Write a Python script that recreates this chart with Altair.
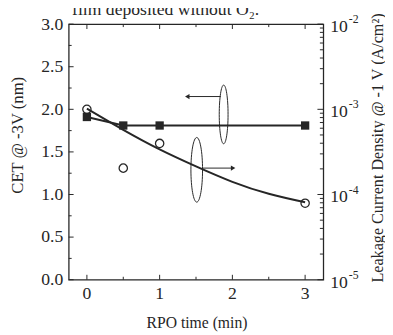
import altair as alt
import pandas as pd

# ---- data ----
rpo_sq = [0, 0.5, 1, 3]
cet = [1.91, 1.81, 1.81, 1.81]
rpo_circ = [0, 0.5, 1, 3]
leak = [1.0e-3, 2.04e-4, 3.98e-4, 7.9e-5]
fit_x = [0, 0.5, 1, 1.5, 2, 2.5, 3]
fit_leak = [1.02e-3, 5.75e-4, 3.39e-4, 2.14e-4, 1.41e-4, 1.02e-4, 8.1e-5]

# tick positions / labels
x_major = [0, 1, 2, 3]
x_labels = ["0", "1", "2", "3"]
x_minor = [0.5, 1.5, 2.5]
yl_major = [0, 0.5, 1.0, 1.5, 2.0, 2.5, 3.0]
yl_minor = [0.25, 0.75, 1.25, 1.75, 2.25, 2.75]
yr_major = [1e-5, 1e-4, 1e-3, 1e-2]
yr_exp = ["-5", "-4", "-3", "-2"]
yr_minor = [2e-5, 3e-5, 4e-5, 5e-5, 6e-5, 7e-5, 8e-5, 9e-5,
            2e-4, 3e-4, 4e-4, 5e-4, 6e-4, 7e-4, 8e-4, 9e-4,
            2e-3, 3e-3, 4e-3, 5e-3, 6e-3, 7e-3, 8e-3, 9e-3]

# annotation (arrows + ellipses), in left-axis data units
arrow_y = [2.15, 1.31]
arrow_x1 = [1.38, 1.59]
arrow_x2 = [1.84, 2.01]
ell_x = [1.88, 1.51]
ell_y = [1.94, 1.29]

title_text = "film deposited without O\u2082."
x_title = "RPO time (min)"

W, H = 260, 261
DARK = "#262626"
FONT = "Liberation Serif"

xs = alt.Scale(domain=[-0.25, 3.25], nice=False, zero=False)
yl = alt.Scale(domain=[0, 3], nice=False, zero=False)
yr = alt.Scale(type="log", domain=[1e-5, 1e-2], nice=False)

sq = pd.DataFrame({"t": rpo_sq, "cet": cet})
circ = pd.DataFrame({"t": rpo_circ, "leak": leak})
fit = pd.DataFrame({"t": fit_x, "leak": fit_leak})

left_axis = alt.Axis(orient="left", values=yl_major, format=".1f", labelFontSize=18,
                     labelFont=FONT, labelColor=DARK, ticks=False, tickSize=0,
                     domain=False, grid=False, labelPadding=6, title="CET @ -3V (nm)",
                     titleFont=FONT, titleFontSize=17, titleFontWeight="normal",
                     titleColor=DARK, titleAngle=270, titleX=-52, titleY=113,
                     titleAlign="center", titleBaseline="middle")
right_axis = alt.Axis(orient="right", labels=False, ticks=False, tickSize=0,
                      domain=False, grid=False,
                      title="Leakage Current Density @ -1 V (A/cm\u00b2)", titleFont=FONT,
                      titleFontSize=16.5, titleFontWeight="normal", titleColor=DARK,
                      titleAngle=270, titleX=55, titleY=126, titleAlign="center",
                      titleBaseline="middle")

def XN(f):
    return alt.X(f, scale=xs, axis=None)

def YL(f):
    return alt.Y(f, scale=yl, axis=None)

def YR(f):
    return alt.Y(f, scale=yr, axis=None)

# ---- CET series (left scale) ----
sq_line = alt.Chart(sq).mark_line(color=DARK, strokeWidth=2).encode(
    x=XN("t:Q"), y=alt.Y("cet:Q", scale=yl, axis=left_axis))
sq_pts = alt.Chart(sq).mark_square(size=72, color=DARK, opacity=1).encode(
    x=XN("t:Q"), y=YL("cet:Q"))

# ---- leakage series (right log scale) ----
fit_line = alt.Chart(fit).mark_line(color=DARK, strokeWidth=2, interpolate="natural").encode(
    x=XN("t:Q"), y=alt.Y("leak:Q", scale=yr, axis=right_axis))
circ_pts = alt.Chart(circ).mark_point(shape="circle", size=72, filled=False, color=DARK,
                                      strokeWidth=1.3, opacity=1).encode(
    x=XN("t:Q"), y=YR("leak:Q"))

# ---- inward ticks ----
def hticks(vals, x0, x1, yenc):
    return alt.Chart(pd.DataFrame({"v": vals})).mark_rule(
        color=DARK, strokeWidth=1).encode(y=yenc("v:Q"), x=alt.value(x0), x2=alt.value(x1))

def vticks(vals, y0, y1):
    return alt.Chart(pd.DataFrame({"v": vals})).mark_rule(
        color=DARK, strokeWidth=1).encode(x=XN("v:Q"), y=alt.value(y0), y2=alt.value(y1))

ticks = [hticks(yl_major, 0, 5, YL), hticks(yl_minor, 0, 3, YL),
         hticks(yr_major, W - 6, W, YR), hticks(yr_minor, W - 3.5, W, YR),
         vticks(x_major, H, H - 5), vticks(x_minor, H, H - 3),
         vticks(x_major, 0, 5), vticks(x_minor, 0, 3)]

# ---- x-axis labels and title ----
xl = pd.DataFrame({"v": x_major, "s": x_labels})
x_lab = alt.Chart(xl).mark_text(font=FONT, fontSize=18, color=DARK, align="center",
                                baseline="middle").encode(
    x=XN("v:Q"), y=alt.value(H + 15), text="s:N")
x_tit = alt.Chart(pd.DataFrame({"s": [x_title]})).mark_text(
    font=FONT, fontSize=16, color=DARK, align="center", baseline="middle").encode(
    x=alt.value(W / 2 + 1), y=alt.value(H + 44), text="s:N")

# ---- right-axis labels 10^n ----
lab = pd.DataFrame({"v": yr_major, "e": yr_exp, "b": ["10"] * 4})
lab_base = alt.Chart(lab).mark_text(font=FONT, fontSize=18, color=DARK, align="left",
                                    baseline="middle", dy=3).encode(
    y=YR("v:Q"), x=alt.value(W + 7), text="b:N")
lab_exp = alt.Chart(lab).mark_text(font=FONT, fontSize=12, color=DARK, align="left",
                                   baseline="middle", dy=-5).encode(
    y=YR("v:Q"), x=alt.value(W + 26), text="e:N")

# ---- annotations ----
def ellipse_path(a):
    k = 0.5523
    return (f"M0,-1 C{k*a:.4f},-1 {a:.4f},{-k:.4f} {a:.4f},0 "
            f"C{a:.4f},{k:.4f} {k*a:.4f},1 0,1 "
            f"C{-k*a:.4f},1 {-a:.4f},{k:.4f} {-a:.4f},0 "
            f"C{-a:.4f},{-k:.4f} {-k*a:.4f},-1 0,-1 Z")

ell1 = alt.Chart(pd.DataFrame({"x": [ell_x[0]], "y": [ell_y[0]]})).mark_point(
    shape=ellipse_path(0.15), size=3600, filled=False, color=DARK, strokeWidth=1,
    opacity=1).encode(x=XN("x:Q"), y=YL("y:Q"))
ell2 = alt.Chart(pd.DataFrame({"x": [ell_x[1]], "y": [ell_y[1]]})).mark_point(
    shape=ellipse_path(0.18), size=4356, filled=False, color=DARK, strokeWidth=1,
    opacity=1).encode(x=XN("x:Q"), y=YL("y:Q"))

arr = pd.DataFrame({"x1": arrow_x1, "x2": arrow_x2, "y": arrow_y})
arr_lines = alt.Chart(arr).mark_rule(color=DARK, strokeWidth=1).encode(
    x=XN("x1:Q"), x2="x2:Q", y=YL("y:Q"))
head1 = alt.Chart(pd.DataFrame({"x": [arrow_x1[0]], "y": [arrow_y[0]]})).mark_point(
    shape="triangle-left", size=28, filled=True, color=DARK, opacity=1).encode(
    x=XN("x:Q"), y=YL("y:Q"))
head2 = alt.Chart(pd.DataFrame({"x": [arrow_x2[1]], "y": [arrow_y[1]]})).mark_point(
    shape="triangle-right", size=28, filled=True, color=DARK, opacity=1).encode(
    x=XN("x:Q"), y=YL("y:Q"))

top_text = alt.Chart(pd.DataFrame({"s": [title_text]})).mark_text(
    font=FONT, fontSize=18, color=DARK, align="center", baseline="alphabetic").encode(
    x=alt.value(99), y=alt.value(-9), text="s:N")

chart = alt.layer(
    sq_line, fit_line, sq_pts, circ_pts, *ticks, x_lab, x_tit, lab_base, lab_exp,
    ell1, ell2, arr_lines, head1, head2, top_text
).resolve_scale(y="independent").properties(
    width=W, height=H,
    autosize=alt.AutoSizeParams(type="none"),
    padding={"left": 62, "top": 13, "right": 63, "bottom": 53},
    background="white",
).configure_view(stroke=DARK, strokeWidth=1.3).configure_axis(grid=False)

chart.save("out.html", embed_options={"renderer": "svg", "actions": False})
